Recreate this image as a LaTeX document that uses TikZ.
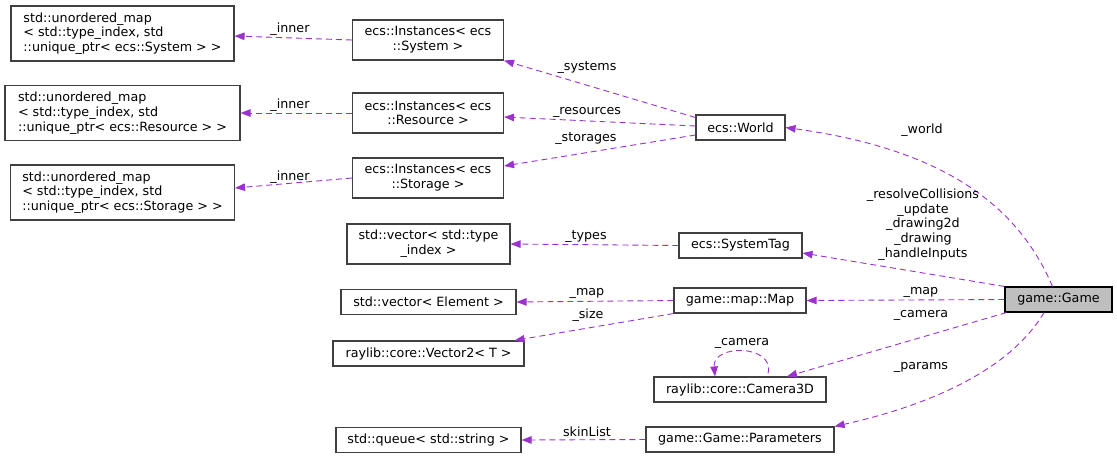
\documentclass[tikz,border=0pt]{standalone}
\usepackage{fontspec}
\setmainfont{DejaVu Sans}
\usetikzlibrary{arrows.meta,calc}

\begin{document}
\begin{tikzpicture}[
    x=1pt, y=-1pt,
    every node/.style={font=\fontsize{12.7}{14.7}\selectfont},
    cls/.style={draw=boxline, fill=white, line width=1.1pt, inner sep=0pt,
        minimum height=25pt, align=center},
    member/.style={draw=edgeviolet, line width=0.9pt, dash pattern=on 6pt off 4pt,
        -{Triangle[length=10pt,width=7.5pt]}},
    lbl/.style={inner sep=0pt, align=center},
]

\definecolor{edgeviolet}{RGB}{154,50,205}
\definecolor{boxline}{RGB}{64,64,64}
\definecolor{gamefill}{RGB}{191,191,191}

\useasboundingbox (0,0) rectangle (1117,459);

% ---------- macro: one ecs storage pair (instances box -> unordered_map box) ----------
% #1 = key, #2 = component type, #3 = map centre y, #4 = map width
% #5 = instances centre y, #6 = shift of arrow end, #7 = label y
\newcommand{\ecsstore}[7]{%
    \node[cls, minimum width=#4pt, minimum height=55pt, align=left] (um#1) at (122.5,#3)
        {std::unordered\_map\\< std::type\_index, std\\::unique\_ptr< ecs::#2 > >};
    \node[cls, minimum width=151pt, minimum height=40pt] (inst#1) at (428,#5)
        {ecs::Instances< ecs\\::#2 >};
    \draw[member] (inst#1.west) -- ($(um#1.east)+(0,#6)$);
    \node[lbl] (inner#1) at (290,#7) {\_inner};
}

\ecsstore{Sys}{System}{33.5}{223}{40}{2.5}{29}
\ecsstore{Res}{Resource}{113}{235}{113}{0}{105}
\ecsstore{Sto}{Storage}{192.5}{224}{178}{-4.5}{177}

% ---------- left column: plain std / raylib types ----------
\node[cls, minimum width=163pt, minimum height=40pt] (vecType) at (428.5,244)
    {std::vector< std::type\\\_index >};
\node[cls, minimum width=175pt] (vecElem) at (428.5,302) {std::vector< Element >};
\node[cls, minimum width=191pt] (vecTwo) at (428.5,353.5) {raylib::core::Vector2< T >};
\node[cls, minimum width=185pt] (queue) at (428.5,440) {std::queue< std::string >};

% ---------- middle column ----------
\node[cls, minimum width=89pt] (world) at (740.5,127.5) {ecs::World};
\node[cls, minimum width=123pt] (sysTag) at (740.5,245.5) {ecs::SystemTag};
\node[cls, minimum width=132pt] (map) at (740,300.5) {game::map::Map};
\node[cls, minimum width=172pt] (cam) at (740,389.5) {raylib::core::Camera3D};
\node[cls, minimum width=188pt] (params) at (740,439.5) {game::Game::Parameters};

% ---------- the class itself ----------
\node[cls, draw=black, fill=gamefill, minimum width=107pt] (game) at (1058.5,299.5) {game::Game};

% ---------- members of ecs::World ----------
\draw[member] ($(world.west)+(0,-10)$) -- (instSys.south east);
\draw[member] ($(world.west)+(0,-1.5)$) -- ($(instRes.east)+(0,4)$);
\draw[member] ($(world.west)+(0,7.5)$) -- ($(instSto.east)+(0,-12)$);
\node[lbl] (lSystems) at (587,68) {\_systems};
\node[lbl] (lResources) at (587,112) {\_resources};
\node[lbl] (lStorages) at (586,139) {\_storages};

% ---------- members of game::Game ----------
\draw[member] ($(game.north)+(-6,0)$) .. controls (1020,210) and (950,150) .. (world.east);
\draw[member] (game.north west) -- ($(sysTag.east)+(0,7.5)$);
\draw[member] (game.west) -- (map.east);
\draw[member] ($(game.south west)+(2,0)$) -- ($(cam.north)+(47,0)$);
\draw[member] ($(game.south)+(-14.5,0)$) .. controls (1010,370) and (930,405) .. (params.north east);
\node[lbl] (lWorld) at (922,130) {\_world};
\node[lbl] (lSystemsTag) at (923,224.5)
    {\_resolveCollisions\\\_update\\\_drawing2d\\\_drawing\\\_handleInputs};
\node[lbl] (lMap) at (921,292) {\_map};
\node[lbl] (lCamera) at (921,315) {\_camera};
\node[lbl] (lParams) at (921,367) {\_params};

% ---------- remaining members ----------
\draw[member] (sysTag.west) -- (vecType.east);
\draw[member] (map.west) -- (vecElem.east);
\draw[member] (map.south west) -- ($(vecTwo.north east)+(-10,0)$);
\draw[member] (params.west) -- (queue.east);
\draw[member] ($(cam.north)+(28,-3)$) .. controls (775,344) and (712,344) .. ($(cam.north)+(-25,0)$);
\node[lbl] (lTypes) at (586,237) {\_types};
\node[lbl] (lMapElem) at (587,293) {\_map};
\node[lbl] (lSize) at (588,315) {\_size};
\node[lbl] (lSkin) at (587,432) {skinList};
\node[lbl] (lCamSelf) at (742,343) {\_camera};

\end{tikzpicture}
\end{document}
